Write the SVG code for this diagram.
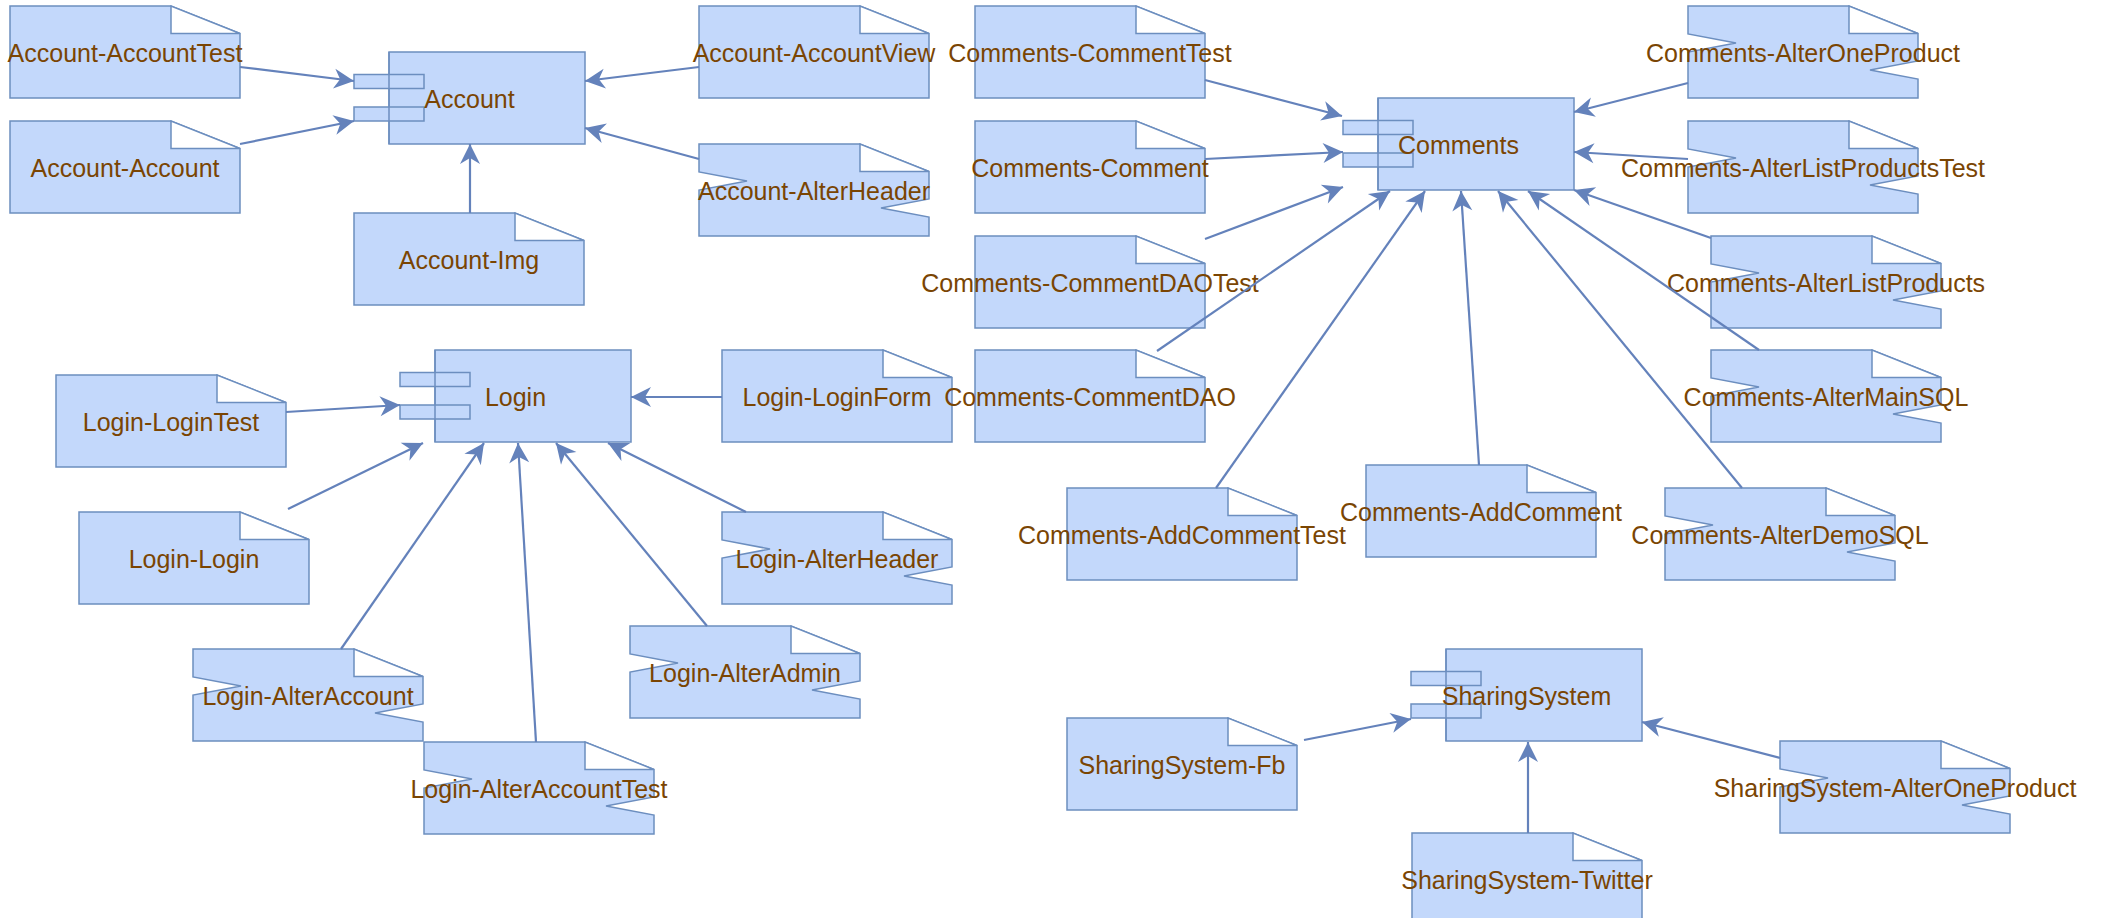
<svg xmlns="http://www.w3.org/2000/svg" xmlns:xlink="http://www.w3.org/1999/xlink" width="2102" height="918" viewBox="0 0 2102 918">
  <style>
    .body { fill: #c3d8fb; stroke: #6c8ebf; stroke-width: 1.5; }
    .fold { fill: #ffffff; stroke: #6c8ebf; stroke-width: 1.5; stroke-linejoin: miter; }
    .edge { fill: none; stroke: #6c8ebf; stroke-width: 1.5; }
    .label { font-family: "Liberation Sans", Arial, sans-serif; font-size: 25px; fill: #7a4503; text-anchor: middle; }
    .conn { fill: none; stroke: #6482bb; stroke-width: 2.2; marker-end: url(#arrow); }
  </style>
  <defs>
    <marker id="arrow" markerUnits="userSpaceOnUse" viewBox="-21 -11 22 22" refX="0" refY="0" markerWidth="22" markerHeight="22" orient="auto">
      <path d="M0,0 L-20,-10 L-14,0 L-20,10 Z" fill="#6482bb"/>
    </marker>
    <!-- plain artifact: rectangle with dog-eared corner, 230 x 92 -->
    <path id="doc" class="body" d="M0,0 H161 L230,27.5 V92 H0 Z"/>
    <!-- artifact with notches cut into both sides -->
    <path id="docNotched" class="body" d="M0,0 H161 L230,27.5 V55 L182,64 L230,73 V92 H0 V46 L48,37 L0,28 Z"/>
    <path id="fold" class="fold" d="M161,0 V27.5 H230 Z"/>
    <!-- component: main body with two port tabs -->
    <g id="component">
      <rect class="body" x="35" y="0" width="196" height="92"/>
      <rect class="body" x="0" y="22.5" width="70" height="14"/>
      <rect class="body" x="0" y="55" width="70" height="14"/>
      <path class="edge" d="M35,0 V92"/>
    </g>
  </defs>

  <!-- Account package -->
  <g id="node-account" transform="translate(354,52)">
    <use xlink:href="#component"/>
    <text class="label" x="115.5" y="55.5">Account</text>
  </g>
  <g id="node-account-accounttest" transform="translate(10,6)">
    <use xlink:href="#doc"/><use xlink:href="#fold"/>
    <text class="label" x="115" y="55.5">Account-AccountTest</text>
  </g>
  <g id="node-account-account" transform="translate(10,121)">
    <use xlink:href="#doc"/><use xlink:href="#fold"/>
    <text class="label" x="115" y="55.5">Account-Account</text>
  </g>
  <g id="node-account-accountview" transform="translate(699,6)">
    <use xlink:href="#doc"/><use xlink:href="#fold"/>
    <text class="label" x="115" y="55.5">Account-AccountView</text>
  </g>
  <g id="node-account-alterheader" transform="translate(699,144)">
    <use xlink:href="#docNotched"/><use xlink:href="#fold"/>
    <text class="label" x="115" y="55.5">Account-AlterHeader</text>
  </g>
  <g id="node-account-img" transform="translate(354,213)">
    <use xlink:href="#doc"/><use xlink:href="#fold"/>
    <text class="label" x="115" y="55.5">Account-Img</text>
  </g>

  <!-- Login package -->
  <g id="node-login" transform="translate(400,350)">
    <use xlink:href="#component"/>
    <text class="label" x="115.5" y="55.5">Login</text>
  </g>
  <g id="node-login-logintest" transform="translate(56,375)">
    <use xlink:href="#doc"/><use xlink:href="#fold"/>
    <text class="label" x="115" y="55.5">Login-LoginTest</text>
  </g>
  <g id="node-login-login" transform="translate(79,512)">
    <use xlink:href="#doc"/><use xlink:href="#fold"/>
    <text class="label" x="115" y="55.5">Login-Login</text>
  </g>
  <g id="node-login-loginform" transform="translate(722,350)">
    <use xlink:href="#doc"/><use xlink:href="#fold"/>
    <text class="label" x="115" y="55.5">Login-LoginForm</text>
  </g>
  <g id="node-login-alterheader" transform="translate(722,512)">
    <use xlink:href="#docNotched"/><use xlink:href="#fold"/>
    <text class="label" x="115" y="55.5">Login-AlterHeader</text>
  </g>
  <g id="node-login-alteradmin" transform="translate(630,626)">
    <use xlink:href="#docNotched"/><use xlink:href="#fold"/>
    <text class="label" x="115" y="55.5">Login-AlterAdmin</text>
  </g>
  <g id="node-login-alteraccount" transform="translate(193,649)">
    <use xlink:href="#docNotched"/><use xlink:href="#fold"/>
    <text class="label" x="115" y="55.5">Login-AlterAccount</text>
  </g>
  <g id="node-login-alteraccounttest" transform="translate(424,742)">
    <use xlink:href="#docNotched"/><use xlink:href="#fold"/>
    <text class="label" x="115" y="55.5">Login-AlterAccountTest</text>
  </g>

  <!-- Comments package -->
  <g id="node-comments" transform="translate(1343,98)">
    <use xlink:href="#component"/>
    <text class="label" x="115.5" y="55.5">Comments</text>
  </g>
  <g id="node-comments-commenttest" transform="translate(975,6)">
    <use xlink:href="#doc"/><use xlink:href="#fold"/>
    <text class="label" x="115" y="55.5">Comments-CommentTest</text>
  </g>
  <g id="node-comments-comment" transform="translate(975,121)">
    <use xlink:href="#doc"/><use xlink:href="#fold"/>
    <text class="label" x="115" y="55.5">Comments-Comment</text>
  </g>
  <g id="node-comments-commentdaotest" transform="translate(975,236)">
    <use xlink:href="#doc"/><use xlink:href="#fold"/>
    <text class="label" x="115" y="55.5">Comments-CommentDAOTest</text>
  </g>
  <g id="node-comments-commentdao" transform="translate(975,350)">
    <use xlink:href="#doc"/><use xlink:href="#fold"/>
    <text class="label" x="115" y="55.5">Comments-CommentDAO</text>
  </g>
  <g id="node-comments-addcommenttest" transform="translate(1067,488)">
    <use xlink:href="#doc"/><use xlink:href="#fold"/>
    <text class="label" x="115" y="55.5">Comments-AddCommentTest</text>
  </g>
  <g id="node-comments-addcomment" transform="translate(1366,465)">
    <use xlink:href="#doc"/><use xlink:href="#fold"/>
    <text class="label" x="115" y="55.5">Comments-AddComment</text>
  </g>
  <g id="node-comments-alterdemosql" transform="translate(1665,488)">
    <use xlink:href="#docNotched"/><use xlink:href="#fold"/>
    <text class="label" x="115" y="55.5">Comments-AlterDemoSQL</text>
  </g>
  <g id="node-comments-altermainsql" transform="translate(1711,350)">
    <use xlink:href="#docNotched"/><use xlink:href="#fold"/>
    <text class="label" x="115" y="55.5">Comments-AlterMainSQL</text>
  </g>
  <g id="node-comments-alterlistproducts" transform="translate(1711,236)">
    <use xlink:href="#docNotched"/><use xlink:href="#fold"/>
    <text class="label" x="115" y="55.5">Comments-AlterListProducts</text>
  </g>
  <g id="node-comments-alterlistproductstest" transform="translate(1688,121)">
    <use xlink:href="#docNotched"/><use xlink:href="#fold"/>
    <text class="label" x="115" y="55.5">Comments-AlterListProductsTest</text>
  </g>
  <g id="node-comments-alteroneproduct" transform="translate(1688,6)">
    <use xlink:href="#docNotched"/><use xlink:href="#fold"/>
    <text class="label" x="115" y="55.5">Comments-AlterOneProduct</text>
  </g>

  <!-- SharingSystem package -->
  <g id="node-sharingsystem" transform="translate(1411,649)">
    <use xlink:href="#component"/>
    <text class="label" x="115.5" y="55.5">SharingSystem</text>
  </g>
  <g id="node-sharingsystem-fb" transform="translate(1067,718)">
    <use xlink:href="#doc"/><use xlink:href="#fold"/>
    <text class="label" x="115" y="55.5">SharingSystem-Fb</text>
  </g>
  <g id="node-sharingsystem-twitter" transform="translate(1412,833)">
    <use xlink:href="#doc"/><use xlink:href="#fold"/>
    <text class="label" x="115" y="55.5">SharingSystem-Twitter</text>
  </g>
  <g id="node-sharingsystem-alteroneproduct" transform="translate(1780,741)">
    <use xlink:href="#docNotched"/><use xlink:href="#fold"/>
    <text class="label" x="115" y="55.5">SharingSystem-AlterOneProduct</text>
  </g>

  <!-- dependency connectors -->
  <g id="connectors">
    <path class="conn" d="M240,67 L354,81"/>
    <path class="conn" d="M240,144 L354,121"/>
    <path class="conn" d="M470,213 L470,144"/>
    <path class="conn" d="M699,67 L585,81"/>
    <path class="conn" d="M699,159 L585,128"/>

    <path class="conn" d="M286,412 L400,405"/>
    <path class="conn" d="M288,509 L423,443"/>
    <path class="conn" d="M722,397 L631,397"/>
    <path class="conn" d="M746,512 L608,443"/>
    <path class="conn" d="M707,626 L556,443"/>
    <path class="conn" d="M341,649 L484,443"/>
    <path class="conn" d="M536,742 L518,443"/>

    <path class="conn" d="M1205,80 L1342,116"/>
    <path class="conn" d="M1205,159 L1343,152"/>
    <path class="conn" d="M1205,239 L1343,187"/>
    <path class="conn" d="M1157,351 L1390,191"/>
    <path class="conn" d="M1216,488 L1425,191"/>
    <path class="conn" d="M1479,465 L1461,191"/>
    <path class="conn" d="M1742,488 L1498,191"/>
    <path class="conn" d="M1759,350 L1528,191"/>
    <path class="conn" d="M1711,238 L1574,190"/>
    <path class="conn" d="M1688,159 L1574,152"/>
    <path class="conn" d="M1688,83 L1574,112"/>

    <path class="conn" d="M1304,740 L1411,719"/>
    <path class="conn" d="M1528,833 L1528,742"/>
    <path class="conn" d="M1780,758 L1642,722"/>
  </g>
</svg>
